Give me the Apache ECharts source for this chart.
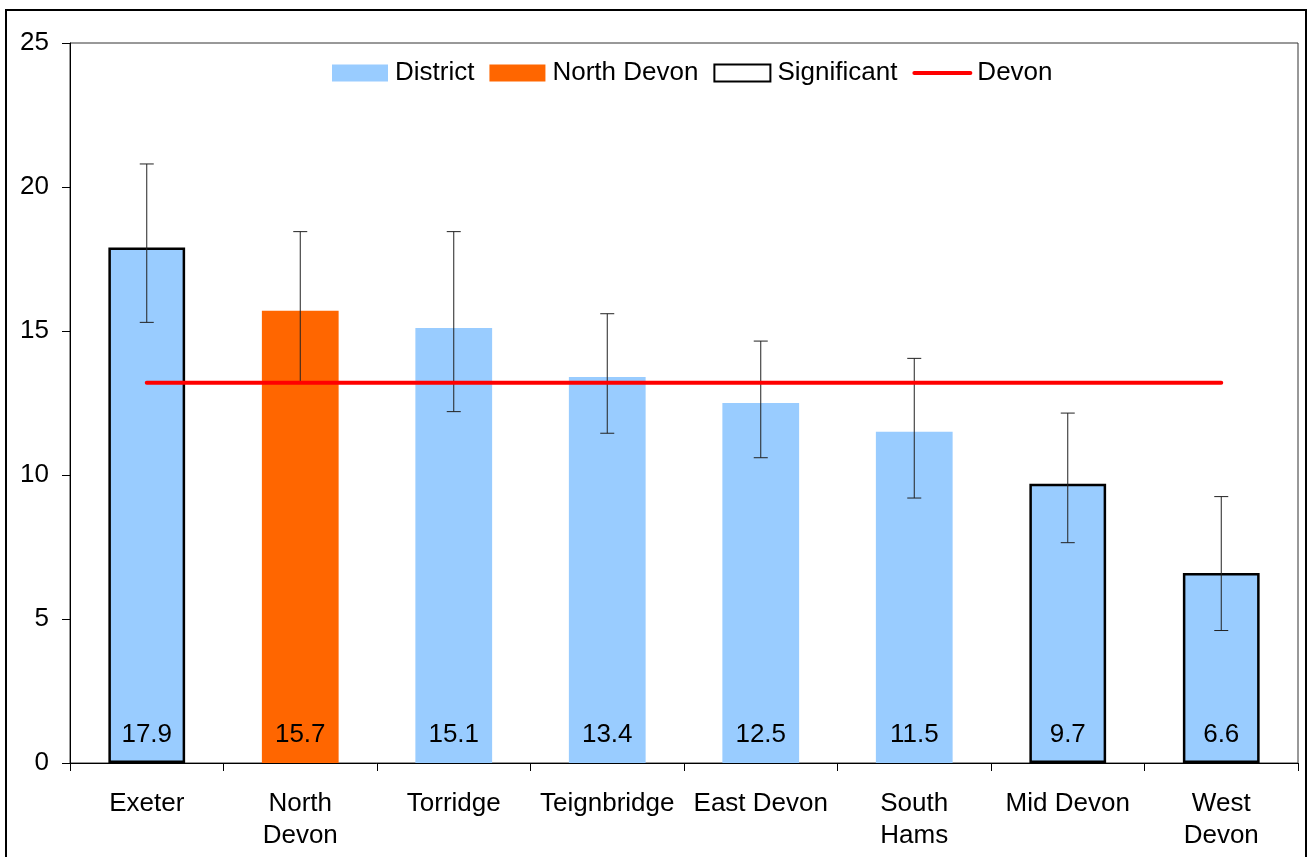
<!DOCTYPE html>
<html>
<head>
<meta charset="utf-8">
<script src="https://cdn.jsdelivr.net/npm/echarts@6/dist/echarts.min.js"></script>
<style>html,body{margin:0;padding:0;background:#fff}#c{width:1313px;height:857px}</style>
</head>
<body>
<div id="c"></div>
<script>
const categories = ['Exeter', 'North\nDevon', 'Torridge', 'Teignbridge', 'East Devon', 'South\nHams', 'Mid Devon', 'West\nDevon'];
const values = [17.9, 15.7, 15.1, 13.4, 12.5, 11.5, 9.7, 6.6];
const lowerCI = [15.3, 13.2, 12.2, 11.45, 10.6, 9.2, 7.65, 4.6];
const upperCI = [20.8, 18.45, 18.45, 15.6, 14.65, 14.05, 12.15, 9.25];
const significant = [true, false, false, false, false, false, true, true];
const isNorthDevon = [false, true, false, false, false, false, false, false];
const devonValue = 13.2;
const yTicks = [0, 5, 10, 15, 20, 25];

const FONT = '"Liberation Sans", Arial, sans-serif';
const FS = 26;
const BLUE = '#99CCFF', ORANGE = '#FF6600', RED = '#FF0000';

const labelCfg = {show: true, position: 'insideBottom', distance: 15, color: '#000', fontSize: FS, fontFamily: FONT,
  formatter: p => p.value == null ? '' : Number(p.value).toFixed(1)};

const districtData = values.map((v, i) => (!significant[i] && !isNorthDevon[i]) ? v : null);
const northData = values.map((v, i) => isNorthDevon[i] ? v : null);
const sigData = values.map((v, i) => (significant[i] && !isNorthDevon[i]) ? v : null);
const errData = values.map((v, i) => [i, lowerCI[i], upperCI[i]]);

const chart = echarts.init(document.getElementById('c'), null, {renderer: 'canvas'});
chart.setOption({
  animation: false,
  backgroundColor: '#fff',
  graphic: [{type: 'rect', shape: {x: 6, y: 10, width: 1300, height: 870}, style: {fill: null, stroke: '#000', lineWidth: 2}, silent: true}],
  legend: {
    top: 60, left: 332, itemWidth: 56, itemHeight: 17, itemGap: 15, padding: 0,
    textStyle: {fontSize: FS, fontFamily: FONT, color: '#000', padding: [0, 0, 0, 2]},
    data: [
      {name: 'District', icon: 'rect'},
      {name: 'North Devon', icon: 'rect'},
      {name: 'Significant', icon: 'rect', itemStyle: {color: '#fff', borderColor: '#000', borderWidth: 2}},
      {name: 'Devon', itemStyle: {opacity: 0}, lineStyle: {color: RED, width: 4, cap: 'round'}}
    ]
  },
  grid: {left: 70, right: 15, top: 43, bottom: 94, show: true, borderColor: '#333', borderWidth: 1},
  xAxis: {
    type: 'category', data: categories, boundaryGap: true,
    axisLine: {lineStyle: {color: '#000', width: 1}},
    axisTick: {show: true, length: 8, alignWithLabel: false, lineStyle: {color: '#000'}},
    axisLabel: {fontSize: FS, fontFamily: FONT, color: '#000', margin: 25, lineHeight: 32, interval: 0}
  },
  yAxis: {
    type: 'value', min: 0, max: 25, interval: 5,
    axisLine: {show: true, lineStyle: {color: '#000'}},
    axisTick: {show: true, length: 8, lineStyle: {color: '#000'}},
    splitLine: {show: false},
    axisLabel: {fontSize: FS, fontFamily: FONT, color: '#000', margin: 21,
      formatter: v => yTicks.includes(v) ? String(v) : ''}
  },
  series: [
    {name: 'District', type: 'bar', stack: 'a', barWidth: '50%', data: districtData,
      itemStyle: {color: BLUE}, label: labelCfg},
    {name: 'North Devon', type: 'bar', stack: 'a', data: northData,
      itemStyle: {color: ORANGE}, label: labelCfg},
    {name: 'Significant', type: 'bar', stack: 'a', data: sigData,
      itemStyle: {color: BLUE, borderColor: '#000', borderWidth: 2.5}, label: labelCfg},
    {name: 'Devon', type: 'line', data: categories.map(() => devonValue), symbol: 'none', showSymbol: false,
      lineStyle: {color: RED, width: 4, cap: 'round'}, itemStyle: {color: RED}, z: 5},
    {name: 'CI', type: 'custom', z: 4, data: errData,
      renderItem: (params, api) => {
        const i = api.value(0);
        const lo = api.coord([i, api.value(1)]);
        const hi = api.coord([i, api.value(2)]);
        const cap = 7;
        const st = {stroke: '#222', lineWidth: 1};
        return {type: 'group', children: [
          {type: 'line', shape: {x1: lo[0], y1: lo[1], x2: hi[0], y2: hi[1]}, style: st},
          {type: 'line', shape: {x1: lo[0] - cap, y1: lo[1], x2: lo[0] + cap, y2: lo[1]}, style: st},
          {type: 'line', shape: {x1: hi[0] - cap, y1: hi[1], x2: hi[0] + cap, y2: hi[1]}, style: st}
        ]};
      }}
  ]
});
</script>
</body>
</html>
